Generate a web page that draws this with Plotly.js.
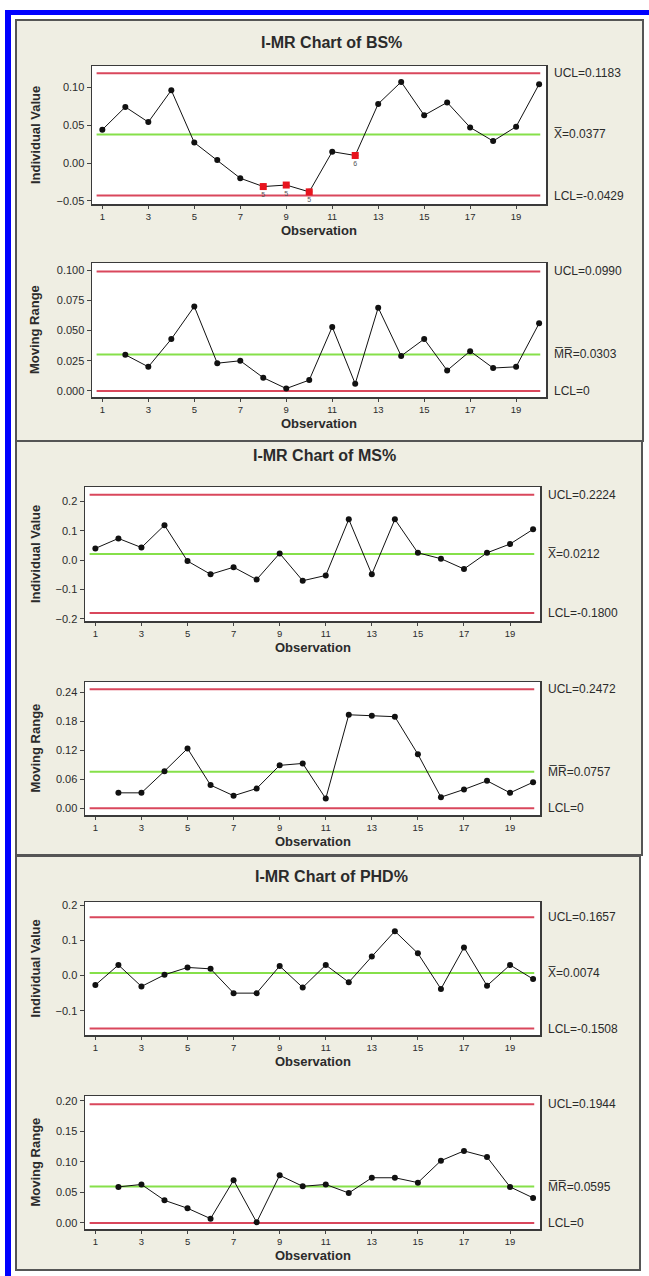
<!DOCTYPE html>
<html>
<head>
<meta charset="utf-8">
<script src="https://cdn.plot.ly/plotly-3.0.1.min.js"></script>
<style>
  html, body { margin: 0; padding: 0; background: #ffffff; }
  #chart { width: 649px; height: 1276px; }
</style>
</head>
<body>
<div id="chart"></div>
<script>
// ---- Data -------------------------------------------------------------
const observations = [1, 2, 3, 4, 5, 6, 7, 8, 9, 10, 11, 12, 13, 14, 15, 16, 17, 18, 19, 20];
const mrObservations = [2, 3, 4, 5, 6, 7, 8, 9, 10, 11, 12, 13, 14, 15, 16, 17, 18, 19, 20];
const xTickValues = [1, 3, 5, 7, 9, 11, 13, 15, 17, 19];

// BS%
const bsIndividual = [0.044, 0.074, 0.054, 0.096, 0.027, 0.004, -0.020, -0.031, -0.029, -0.038,
                      0.015, 0.010, 0.078, 0.107, 0.063, 0.080, 0.047, 0.029, 0.048, 0.104];
const bsMovingRange = [0.030, 0.020, 0.043, 0.070, 0.023, 0.025, 0.011, 0.002, 0.009, 0.053,
                       0.006, 0.069, 0.029, 0.043, 0.017, 0.033, 0.019, 0.020, 0.056];
const bsLimitsI = [0.1183, 0.0377, -0.0429];   // UCL, centre, LCL
const bsLimitsMR = [0.0990, 0.0303, 0];
const bsFlagged = [8, 9, 10, 12];
const bsFlagTests = ['5', '5', '5', '6'];

// MS%
const msIndividual = [0.040, 0.074, 0.043, 0.119, -0.003, -0.048, -0.024, -0.066, 0.023, -0.070,
                      -0.052, 0.139, -0.048, 0.139, 0.025, 0.005, -0.030, 0.025, 0.055, 0.105];
const msMovingRange = [0.032, 0.032, 0.077, 0.124, 0.048, 0.026, 0.041, 0.089, 0.093, 0.020,
                       0.194, 0.192, 0.190, 0.112, 0.023, 0.039, 0.057, 0.032, 0.054];
const msLimitsI = [0.2224, 0.0212, -0.1800];
const msLimitsMR = [0.2472, 0.0757, 0];

// PHD%
const phdIndividual = [-0.027, 0.030, -0.031, 0.002, 0.023, 0.019, -0.050, -0.050, 0.027, -0.034,
                       0.030, -0.019, 0.054, 0.126, 0.063, -0.038, 0.080, -0.029, 0.030, -0.010];
const phdMovingRange = [0.059, 0.063, 0.037, 0.024, 0.007, 0.070, 0.001, 0.078, 0.060, 0.063,
                        0.049, 0.074, 0.074, 0.066, 0.102, 0.118, 0.108, 0.059, 0.041];
const phdLimitsI = [0.1657, 0.0074, -0.1508];
const phdLimitsMR = [0.1944, 0.0595, 0];

// ---- Layout helpers ----------------------------------------------------
const W = 649, H = 1276;
const px = v => v / W;
const py = v => 1 - v / H;

const FONT = 'Liberation Sans, Arial, sans-serif';
const RED = '#d9475c';
const GREEN = '#86e04a';
const INK = '#2b2b2b';

// chart blocks: title, plot boxes and y-axis settings
const blocks = [
  {
    title: 'I-MR Chart of BS%', titleX: 331, titleY: 43,
    panel: [16, 20, 643, 441],
    ind: bsIndividual, mr: bsMovingRange, limI: bsLimitsI, limMR: bsLimitsMR,
    flagged: bsFlagged, flagTests: bsFlagTests,
    boxI: [92, 66, 546, 204], boxMR: [92, 263, 546, 397],
    rangeI: [-0.054, 0.128], ticksI: [-0.05, 0.00, 0.05, 0.10], fmtI: '.2f',
    rangeMR: [-0.005, 0.106], ticksMR: [0, 0.025, 0.05, 0.075, 0.1], fmtMR: '.3f'
  },
  {
    title: 'I-MR Chart of MS%', titleX: 324, titleY: 456,
    panel: [16, 441, 642, 855],
    ind: msIndividual, mr: msMovingRange, limI: msLimitsI, limMR: msLimitsMR,
    flagged: [], flagTests: [],
    boxI: [85, 487, 540, 621], boxMR: [85, 682, 540, 815],
    rangeI: [-0.207, 0.249], ticksI: [-0.2, -0.1, 0, 0.1, 0.2], fmtI: '.1f',
    rangeMR: [-0.014, 0.262], ticksMR: [0, 0.06, 0.12, 0.18, 0.24], fmtMR: '.2f'
  },
  {
    title: 'I-MR Chart of PHD%', titleX: 331, titleY: 876,
    panel: [16, 856, 640, 1270],
    ind: phdIndividual, mr: phdMovingRange, limI: phdLimitsI, limMR: phdLimitsMR,
    flagged: [], flagTests: [],
    boxI: [85, 902, 540, 1035], boxMR: [85, 1096, 540, 1229],
    rangeI: [-0.169, 0.209], ticksI: [-0.1, 0, 0.1, 0.2], fmtI: '.1f',
    rangeMR: [-0.010, 0.208], ticksMR: [0, 0.05, 0.10, 0.15, 0.20], fmtMR: '.2f'
  }
];

const X_RANGE = [0.55, 20.3];
const LINE_FROM = 0.75, LINE_TO = 20.05;

const traces = [];
const shapes = [];
const annotations = [];
const layout = {
  width: W, height: H,
  margin: {l: 0, r: 0, t: 0, b: 0},
  paper_bgcolor: '#ffffff',
  plot_bgcolor: 'rgba(0,0,0,0)',
  showlegend: false,
  font: {family: FONT, color: INK}
};

// outer blue frame
shapes.push({type: 'rect', xref: 'paper', yref: 'paper', layer: 'below',
  x0: px(5), x1: px(11), y0: py(1276), y1: py(10), fillcolor: '#0000ff', line: {width: 0}});
shapes.push({type: 'rect', xref: 'paper', yref: 'paper', layer: 'below',
  x0: px(5), x1: px(649), y0: py(15), y1: py(10), fillcolor: '#0000ff', line: {width: 0}});

let axisIndex = 0;

function addChart(box, values, xs, limits, range, ticks, fmt, yTitle, centerSym) {
  axisIndex += 1;
  const xa = axisIndex === 1 ? 'xaxis' : 'xaxis' + axisIndex;
  const ya = axisIndex === 1 ? 'yaxis' : 'yaxis' + axisIndex;
  const xr = axisIndex === 1 ? 'x' : 'x' + axisIndex;
  const yr = axisIndex === 1 ? 'y' : 'y' + axisIndex;
  const [l, t, r, b] = box;

  layout[xa] = {
    domain: [px(l), px(r)], anchor: yr, range: X_RANGE,
    tickvals: xTickValues, ticks: 'outside', ticklen: 3, tickcolor: '#444',
    tickfont: {family: FONT, size: 9.5, color: INK},
    showgrid: false, zeroline: false, showline: true, mirror: true,
    linecolor: '#3a3a3a', linewidth: 1.5, fixedrange: true
  };
  layout[ya] = {
    domain: [py(b), py(t)], anchor: xr, range: range,
    tickvals: ticks, tickformat: fmt, ticks: 'outside', ticklen: 4, tickcolor: '#444',
    tickfont: {family: FONT, size: 11, color: INK},
    showgrid: false, zeroline: false, showline: true, mirror: true,
    linecolor: '#3a3a3a', linewidth: 1.5, fixedrange: true
  };

  // white plotting area
  shapes.push({type: 'rect', xref: xr + ' domain', yref: yr + ' domain', layer: 'below',
    x0: 0, x1: 1, y0: 0, y1: 1, fillcolor: '#ffffff', line: {width: 0}});

  // control limits and centre line
  const limitColors = [RED, GREEN, RED];
  limits.forEach((v, i) => {
    traces.push({
      type: 'scatter', mode: 'lines', xaxis: xr, yaxis: yr,
      x: [LINE_FROM, LINE_TO], y: [v, v],
      line: {color: limitColors[i], width: 2}, hoverinfo: 'skip'
    });
  });

  // data
  traces.push({
    type: 'scatter', mode: 'lines+markers', xaxis: xr, yaxis: yr,
    x: xs, y: values,
    line: {color: '#111111', width: 1},
    marker: {color: '#111111', size: 6}
  });

  // limit labels at the right
  const labels = ['UCL=' + limits[0].toFixed(4), centerSym + '=' + limits[1].toFixed(4),
                  'LCL=' + (limits[2] === 0 ? '0' : limits[2].toFixed(4))];
  labels.forEach((txt, i) => {
    annotations.push({
      xref: 'paper', yref: yr, x: px(r + 6), y: limits[i],
      xanchor: 'left', yanchor: 'middle', showarrow: false,
      text: txt, font: {family: FONT, size: 12, color: INK}
    });
  });

  // axis titles
  annotations.push({
    xref: 'paper', yref: 'paper', x: px(35), y: py((t + b) / 2),
    xanchor: 'center', yanchor: 'middle', showarrow: false, textangle: -90,
    text: '<b>' + yTitle + '</b>', font: {family: FONT, size: 13, color: INK}
  });
  annotations.push({
    xref: 'paper', yref: 'paper', x: px((l + r) / 2), y: py(b + 26),
    xanchor: 'center', yanchor: 'middle', showarrow: false,
    text: '<b>Observation</b>', font: {family: FONT, size: 13, color: INK}
  });
  return {xr, yr};
}

blocks.forEach(bk => {
  const [pl, pt, pr, pb] = bk.panel;
  shapes.push({type: 'rect', xref: 'paper', yref: 'paper', layer: 'below',
    x0: px(pl), x1: px(pr), y0: py(pb), y1: py(pt),
    fillcolor: '#efeee3', line: {color: '#555555', width: 2}});

  annotations.push({
    xref: 'paper', yref: 'paper', x: px(bk.titleX), y: py(bk.titleY),
    xanchor: 'center', yanchor: 'middle', showarrow: false,
    text: '<b>' + bk.title + '</b>', font: {family: FONT, size: 16, color: INK}
  });

  const iAx = addChart(bk.boxI, bk.ind, observations, bk.limI, bk.rangeI, bk.ticksI, bk.fmtI,
                       'Individual Value', 'X\u0305');
  addChart(bk.boxMR, bk.mr, mrObservations, bk.limMR, bk.rangeMR, bk.ticksMR, bk.fmtMR,
           'Moving Range', 'M\u0305R\u0305');

  // points failing a test, with the test number underneath
  if (bk.flagged.length) {
    traces.push({
      type: 'scatter', mode: 'markers+text', xaxis: iAx.xr, yaxis: iAx.yr,
      x: bk.flagged, y: bk.flagged.map(o => bk.ind[o - 1]),
      text: bk.flagTests, textposition: 'bottom center',
      textfont: {family: FONT, size: 7, color: '#555555'},
      marker: {color: '#e8141e', size: 7, symbol: 'square'}
    });
  }
});

layout.shapes = shapes;
layout.annotations = annotations;

Plotly.newPlot('chart', traces, layout, {staticPlot: true, displayModeBar: false});
</script>
</body>
</html>
